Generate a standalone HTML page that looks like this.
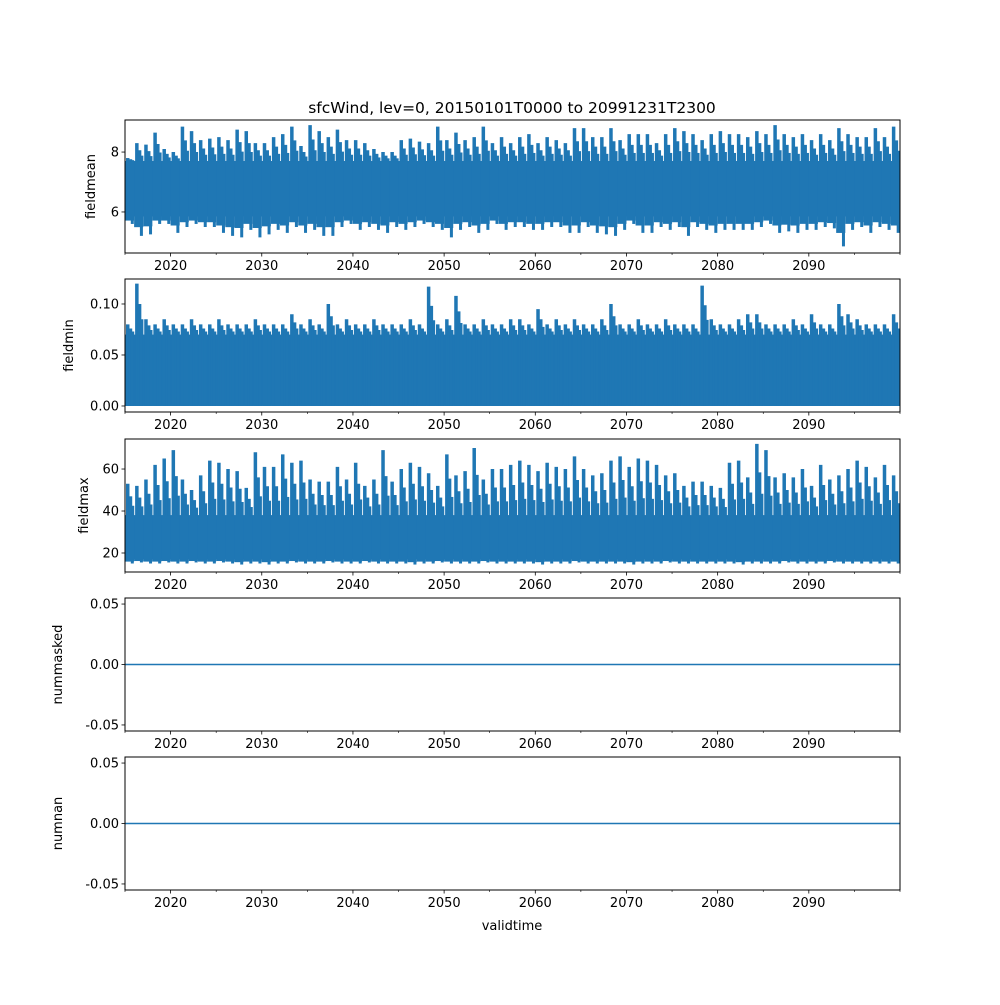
<!DOCTYPE html>
<html><head><meta charset="utf-8"><style>
body{margin:0;background:#fff}
svg text{font-family:"DejaVu Sans","Liberation Sans",sans-serif;fill:#000}
</style></head><body>
<svg id="chart" width="1000" height="1000" xmlns="http://www.w3.org/2000/svg">
<text x="512" y="113" font-size="15.5" text-anchor="middle">sfcWind, lev=0, 20150101T0000 to 20991231T2300</text>
<text x="512" y="930" font-size="13" text-anchor="middle">validtime</text>
</svg>
<script>
const years=[];for(let y=2015;y<=2099;y++)years.push(y);
const meanHigh=[7.8,8.3,8.25,8.65,8.1,8.0,8.85,8.7,8.4,8.45,8.5,8.4,8.75,8.7,8.3,8.3,8.5,8.6,8.85,8.2,8.9,8.7,8.5,8.75,8.4,8.4,8.3,8.1,8.0,8.0,8.4,8.45,8.35,8.3,8.85,8.4,8.65,8.4,8.5,8.85,8.3,8.5,8.3,
8.5,8.6,8.3,8.5,8.4,8.3,8.8,8.8,8.5,8.5,8.8,8.4,8.6,8.6,8.6,8.3,8.6,8.8,8.7,8.6,8.4,8.6,8.7,8.6,8.6,8.5,8.7,8.6,8.9,8.6,8.5,8.6,8.4,8.6,8.4,8.8,8.6,8.5,8.5,8.8,8.5,8.85];
const meanLow=[5.6,5.2,5.25,5.6,5.6,5.3,5.5,5.6,5.5,5.5,5.3,5.2,5.15,5.4,5.15,5.25,5.4,5.3,5.5,5.3,5.4,5.2,5.2,5.5,5.6,5.4,5.5,5.4,5.3,5.5,5.4,5.5,5.6,5.5,5.4,5.15,5.4,5.5,5.3,5.4,5.6,5.4,5.5,
5.5,5.4,5.4,5.5,5.5,5.3,5.3,5.5,5.3,5.25,5.2,5.4,5.6,5.3,5.3,5.5,5.4,5.5,5.2,5.5,5.4,5.3,5.4,5.4,5.4,5.4,5.5,5.6,5.3,5.35,5.3,5.4,5.4,5.5,5.45,4.85,5.4,5.5,5.3,5.5,5.4,5.3];
const minHigh=[0.08,0.12,0.085,0.08,0.085,0.08,0.08,0.085,0.08,0.08,0.085,0.08,0.08,0.08,0.085,0.08,0.08,0.08,0.09,0.08,0.085,0.08,0.1,0.08,0.085,0.08,0.08,0.085,0.08,0.08,0.08,0.085,0.08,0.117,0.08,0.085,0.108,0.08,0.08,0.085,0.08,0.08,0.085,
0.085,0.08,0.095,0.08,0.085,0.08,0.085,0.08,0.08,0.085,0.1,0.08,0.08,0.085,0.08,0.08,0.085,0.08,0.08,0.08,0.118,0.085,0.08,0.08,0.085,0.09,0.09,0.08,0.08,0.08,0.085,0.08,0.09,0.08,0.08,0.1,0.09,0.085,0.08,0.08,0.08,0.09];
const maxHigh=[53,52,55,62,65,69,55,50,57,64,63,60,59,51,68,61,61,67,63,64,55,54,54,61,55,63,52,55,69,54,60,63,61,58,52,67,57,59,70,55,60,60,62,
64,62,59,63,61,60,66,60,57,58,64,66,61,65,64,62,57,58,52,54,54,52,51,63,64,56,72,69,56,58,56,60,52,62,55,57,60,64,61,56,62,57];
const maxLow=[15,15.5,15,15,15.5,15,15,15.5,15,15,15.5,15,14.5,15,15,14.5,15,15,15.5,15,15,15,15.5,15,15,15,15.5,15,15,15,15,14.5,15,15,15.5,15,15,15,15,15.5,15,15,15,
15,15,14.5,15,15,15,15.5,15,15,15,15,15,14.5,15,15,15,15.5,15,15,15,15,15,15,15,14.5,15,15,15,15,15.5,15,15,15,15,15.5,15,15,15,15,15,15,15];
const maskedVals=[0,0];const nanVals=[0,0];
const xTickYears=[2020,2030,2040,2050,2060,2070,2080,2090];
const minorYears=[2025,2035,2045,2055,2065,2075,2085,2095];
const X0=125,X1=900;const T0=2015,T1=2100;
const xs=t=>X0+(t-T0)/(T1-T0)*(X1-X0);
const NS='http://www.w3.org/2000/svg';const svg=document.getElementById('chart');const C='#1f77b4';
function mk(tag,attrs,parent){const e=document.createElementNS(NS,tag);for(const k in attrs)e.setAttribute(k,attrs[k]);(parent||svg).appendChild(e);return e;}
const panels=[
 {name:'fieldmean',top:120,bot:253,ymin:4.63,ymax:9.07,ticks:[6,8],fmt:v=>String(v),hi:meanHigh,lo:meanLow,core:[5.85,7.7],lx:95},
 {name:'fieldmin',top:279,bot:412,ymin:-0.0059,ymax:0.1245,ticks:[0,0.05,0.10],fmt:v=>v.toFixed(2),hi:minHigh,lo:null,core:[0,0.07],lx:73},
 {name:'fieldmax',top:439,bot:572,ymin:10.95,ymax:74.3,ticks:[20,40,60],fmt:v=>String(v),hi:maxHigh,lo:maxLow,core:[17,38],lx:88},
 {name:'nummasked',top:598,bot:731,ymin:-0.055,ymax:0.055,ticks:[-0.05,0,0.05],fmt:v=>v.toFixed(2),flat:maskedVals,lx:62},
 {name:'numnan',top:757,bot:890,ymin:-0.055,ymax:0.055,ticks:[-0.05,0,0.05],fmt:v=>v.toFixed(2),flat:nanVals,lx:62}];
panels.forEach((p,pi)=>{
 const ys=v=>p.bot-(v-p.ymin)/(p.ymax-p.ymin)*(p.bot-p.top);
 const g=mk('g',{});
 
 
 const cid='clip'+pi;const cp=mk('clipPath',{id:cid},g);mk('rect',{x:X0,y:p.top,width:X1-X0,height:p.bot-p.top},cp);
 const s=mk('g',{'clip-path':'url(#'+cid+')'},g);
 
 
 if(p.flat){
  const l=mk('line',{x1:xs(T0),x2:xs(T1),y1:ys(p.flat[0]),y2:ys(p.flat[1]),stroke:C,'stroke-width':1.5},s);
  
  
 }else{
  const r=mk('rect',{x:xs(T0),y:ys(p.core[1]),width:xs(T1)-xs(T0),height:ys(p.core[0])-ys(p.core[1]),fill:C},s);
  
  
  years.forEach((yr,i)=>{
   const lo=p.lo?p.lo[i]:p.core[0];
   const a=mk('line',{x1:xs(yr+0.3),x2:xs(yr+0.3),y1:ys(p.hi[i]),y2:ys(p.core[0]),stroke:C,'stroke-width':3.5},s);
   
   
   const mid=p.core[1]+(p.hi[i]-p.core[1])*0.6;
   const c=mk('line',{x1:xs(yr+0.6),x2:xs(yr+0.6),y1:ys(mid),y2:ys(p.core[0]),stroke:C,'stroke-width':3.5},s);
   
   
   const mid2=p.core[1]+(p.hi[i]-p.core[1])*0.3;
   const d=mk('line',{x1:xs(yr+0.85),x2:xs(yr+0.85),y1:ys(mid2),y2:ys(p.core[0]),stroke:C,'stroke-width':3},s);
   
   
   const b=mk('line',{x1:xs(yr+0.8),x2:xs(yr+0.8),y1:ys(p.core[1]),y2:ys(lo),stroke:C,'stroke-width':3},s);
   
   
   if(p.lo){
    const b2=mk('rect',{x:xs(yr),y:ys(p.core[1]),width:xs(yr+1)-xs(yr),height:ys(p.lo[i]+(p.core[0]-p.lo[i])*0.45)-ys(p.core[1]),fill:C},s);
    
    
   }
  });
 }
 const fr=mk('rect',{x:X0,y:p.top,width:X1-X0,height:p.bot-p.top,fill:'none',stroke:'#000','stroke-width':1},g);
 
 
 p.ticks.forEach(v=>{
  const y=ys(v);
  mk('line',{x1:X0-3.5,x2:X0,y1:y,y2:y,stroke:'#000','stroke-width':0.8},g);
  const t=mk('text',{x:X0-6,y:y+4.5,'font-size':13,'text-anchor':'end'},g);t.textContent=p.fmt(v);
  
  
 });
 const yl=mk('text',{x:p.lx,y:(p.top+p.bot)/2,'font-size':13,'text-anchor':'middle',transform:`rotate(-90 ${p.lx} ${(p.top+p.bot)/2})`},g);
 yl.textContent=p.name;
 
 
 xTickYears.forEach(yr=>{
  const x=xs(yr);
  mk('line',{x1:x,x2:x,y1:p.bot,y2:p.bot+3.5,stroke:'#000','stroke-width':0.8},g);
  const t=mk('text',{x:x,y:p.bot+17,'font-size':13,'text-anchor':'middle'},g);t.textContent=yr;
  
  
 });
 minorYears.concat([2015,2100]).forEach(yr=>{const x=xs(yr);mk('line',{x1:x,x2:x,y1:p.bot,y2:p.bot+2,stroke:'#000','stroke-width':0.6},g);});
});
</script>
</body></html>
